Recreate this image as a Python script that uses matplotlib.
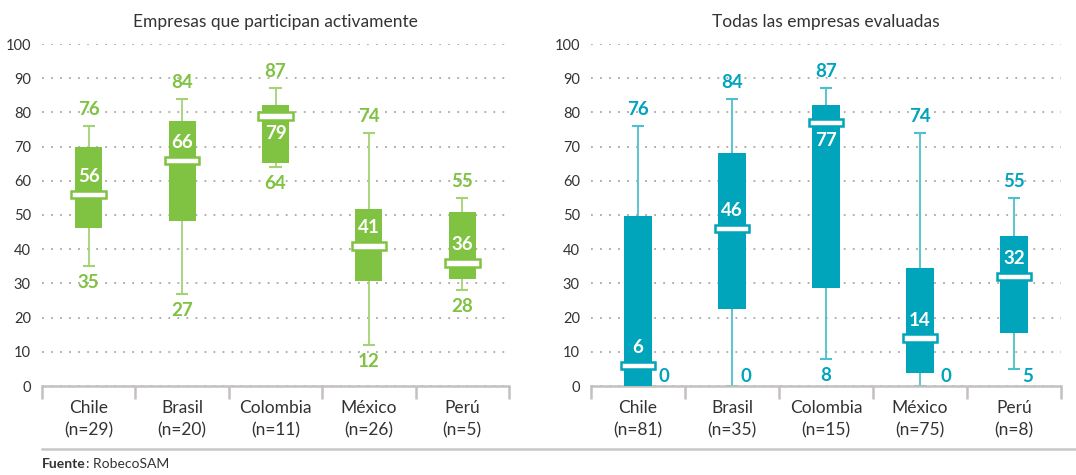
import matplotlib
matplotlib.use("Agg")
from matplotlib import pyplot as plt
from matplotlib.lines import Line2D
import numpy as np

plt.rcParams['font.family'] = ['Lato', 'DejaVu Sans']

countries = ['Chile', 'Brasil', 'Colombia', 'México', 'Perú']

# Empresas que participan activamente
act_n = [29, 20, 11, 26, 5]
act_min = [35, 27, 64, 12, 28]
act_q1 = [46.2, 48.2, 65.2, 30.7, 31.3]
act_med = [56, 66, 79, 41, 36]
act_q3 = [70, 77.5, 82.2, 51.7, 50.9]
act_max = [76, 84, 87, 74, 55]

# Todas las empresas evaluadas
all_n = [81, 35, 15, 75, 8]
all_min = [0, 0, 8, 0, 5]
all_q1 = [0, 22.6, 28.7, 3.7, 15.5]
all_med = [6, 46, 77, 14, 32]
all_q3 = [49.7, 68.1, 82.2, 34.5, 43.9]
all_max = [76, 84, 87, 74, 55]

GREEN = '#80c241'
GREEN_L = '#a3d374'
TEAL = '#00a4bb'
TEAL_L = '#4dbfcf'
DARK = '#333333'
GRAY = '#c4c0c0'


def panel(ax, title, n, lo, q1, med, q3, hi, col, col_l):
    x = np.arange(len(countries))
    ax.set_xlim(-0.5, len(countries) - 0.5)
    ax.set_ylim(0, 100)
    ax.set_yticks(range(0, 101, 10))
    ax.yaxis.grid(True, linestyle=(0, (1, 4)), color='#a8a8a8', lw=1.3)
    ax.set_axisbelow(True)
    for s in ['top', 'right', 'left']:
        ax.spines[s].set_visible(False)
    ax.spines['bottom'].set_color(GRAY)
    ax.spines['bottom'].set_linewidth(1.8)
    ax.tick_params(axis='y', length=0, pad=8, labelsize=10.5, labelcolor=DARK)
    ax.set_xticks(x)
    ax.set_xticklabels([f'{c}\n(n={k})' for c, k in zip(countries, n)],
                       fontsize=12.5, color=DARK, linespacing=1.5)
    ax.tick_params(axis='x', which='major', length=0, pad=10)
    ax.set_xticks(np.arange(len(countries) + 1) - 0.5, minor=True)
    ax.tick_params(axis='x', which='minor', length=9, width=1.8, color=GRAY)

    # whiskers and caps
    ax.vlines(x, q3, hi, color=col_l, lw=1.3, zorder=2)
    ax.vlines(x, lo, q1, color=col_l, lw=1.3, zorder=2)
    ax.hlines(hi, x - 0.065, x + 0.065, color=col_l, lw=1.5, zorder=2)
    ax.hlines(lo, x - 0.065, x + 0.065, color=col_l, lw=1.5, zorder=2)
    # boxes
    ax.bar(x, np.array(q3) - np.array(q1), bottom=q1, width=0.29,
           color=col, zorder=3)
    # median markers
    ax.bar(x, 2.2, bottom=np.array(med) - 1.1, width=0.37, color='white',
           edgecolor=col, lw=1.8, zorder=4)

    lab = dict(ha='center', va='center', fontsize=13.5, fontweight='bold',
               textcoords='offset points', annotation_clip=False)
    for i in range(len(countries)):
        ax.annotate(f'{hi[i]:g}', (x[i], hi[i]), xytext=(0, 12), color=col, **lab)
        if lo[i] < 6:
            dx = 19 if q1[i] < 5 else 10
            ax.annotate(f'{lo[i]:g}', (x[i], 0), xytext=(dx, 6.5), color=col, **lab)
        else:
            ax.annotate(f'{lo[i]:g}', (x[i], lo[i]), xytext=(0, -12), color=col, **lab)
        dy = -13 if q3[i] - med[i] < 8 else 13
        ax.annotate(f'{med[i]:g}', (x[i], med[i]), xytext=(0, dy), color='white',
                    zorder=5, **lab)

    bb = ax.get_position()
    ax.figure.text((bb.x0 + bb.x1) / 2, 1 - 22 / 475, title, ha='center',
                   va='center', fontsize=12.5, color=DARK)


fig = plt.figure(figsize=(10.76, 4.75), dpi=100)
ax1 = fig.add_axes([42 / 1076, 89 / 475, 467 / 1076, 342 / 475])
ax2 = fig.add_axes([591 / 1076, 89 / 475, 470 / 1076, 342 / 475])

panel(ax1, 'Empresas que participan activamente', act_n, act_min, act_q1,
      act_med, act_q3, act_max, GREEN, GREEN_L)
panel(ax2, 'Todas las empresas evaluadas', all_n, all_min, all_q1,
      all_med, all_q3, all_max, TEAL, TEAL_L)

fig.add_artist(Line2D([42 / 1076, 1.0], [1 - 449 / 475] * 2, color='#c8c8c8', lw=1.8))
t = fig.text(42 / 1076, 1 - 464 / 475, 'Fuente', fontsize=10, color=DARK,
             va='center', ha='left', fontweight='bold')
fig.canvas.draw()
ext = t.get_window_extent()
fig.text(ext.x1 / fig.bbox.width, 1 - 464 / 475, ': RobecoSAM', fontsize=10,
         color=DARK, va='center', ha='left')

fig.savefig('out.png', dpi=100)
